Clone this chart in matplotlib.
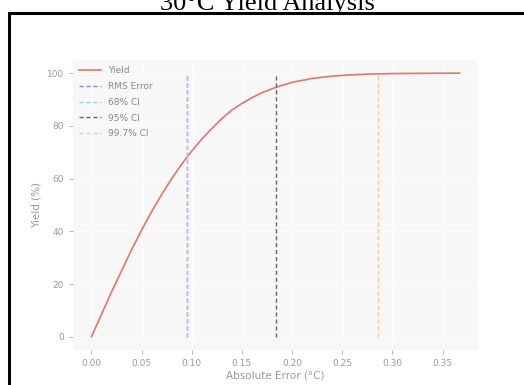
import matplotlib
matplotlib.use("Agg")
import matplotlib.pyplot as plt
from matplotlib.patches import Rectangle

# Data
err = [0.00, 0.01, 0.02, 0.03, 0.04, 0.05, 0.06, 0.07, 0.08, 0.09, 0.10, 0.11,
       0.12, 0.13, 0.14, 0.15, 0.16, 0.17, 0.18, 0.19, 0.20, 0.22, 0.24, 0.26,
       0.28, 0.30, 0.32, 0.34, 0.367]
yield_pct = [0.0, 8.5, 17.0, 25.0, 33.0, 40.5, 47.5, 54.0, 60.0, 65.5, 70.5, 75.0,
             79.0, 82.8, 86.0, 88.5, 90.7, 92.6, 94.1, 95.4, 96.5, 98.0, 98.9, 99.4,
             99.7, 99.85, 99.92, 99.97, 100.0]
ci_labels = ["RMS Error", "68% CI", "95% CI", "99.7% CI"]
ci_values = [0.095, 0.095, 0.184, 0.286]
ci_colors = ["#8090c8", "#a8c8e8", "#666666", "#f5c89a"]
xticks = [0.00, 0.05, 0.10, 0.15, 0.20, 0.25, 0.30, 0.35]
yticks = [0, 20, 40, 60, 80, 100]
title = "30°C Yield Analysis"

W, H = 524, 385
fig = plt.figure(figsize=(W / 100, H / 100), dpi=100)
fig.patch.set_facecolor("white")

# outer frame (extends beyond the right and bottom edges)
fig.patches.append(Rectangle((9 / W, -0.1), 1.2, 1 - 13 / H + 0.1,
                             transform=fig.transFigure, fill=False,
                             edgecolor="black", linewidth=2.2))
fig.text(267 / W, 1 - 4 / H, title, ha="center", va="center",
         family="Liberation Serif", fontsize=19, color="black")

ax = fig.add_axes([73 / W, 1 - 350 / H, (478 - 73) / W, (350 - 60) / H])
ax.set_facecolor("#f7f7f7")
for s in ax.spines.values():
    s.set_visible(False)
ax.grid(True, color="#fcfcfc", linewidth=1.0)
ax.set_axisbelow(True)

ax.plot(err, yield_pct, color="#e8736b", linewidth=1.2, label="Yield")
for lab, v, c in zip(ci_labels, ci_values, ci_colors):
    ax.vlines(v, 0, 100, colors=c, linestyles=(0, (3, 2)), linewidth=1.0, label=lab)

ax.set_xticks(xticks)
ax.set_xticklabels([f"{t:.2f}" for t in xticks])
ax.set_yticks(yticks)
ax.tick_params(colors="#aaaaaa", labelcolor="#999999", labelsize=6.5, length=3, width=0.6)
ax.set_xlabel("Absolute Error (°C)", color="#999999", fontsize=7.5, labelpad=2)
ax.set_ylabel("Yield (%)", color="#999999", fontsize=7.5, labelpad=4)

leg = ax.legend(loc="upper left", frameon=False, fontsize=6.5, labelspacing=0.75,
                handlelength=2.4, borderaxespad=0.3)
for t in leg.get_texts():
    t.set_color("#888888")

fig.savefig("out.png", dpi=100)
